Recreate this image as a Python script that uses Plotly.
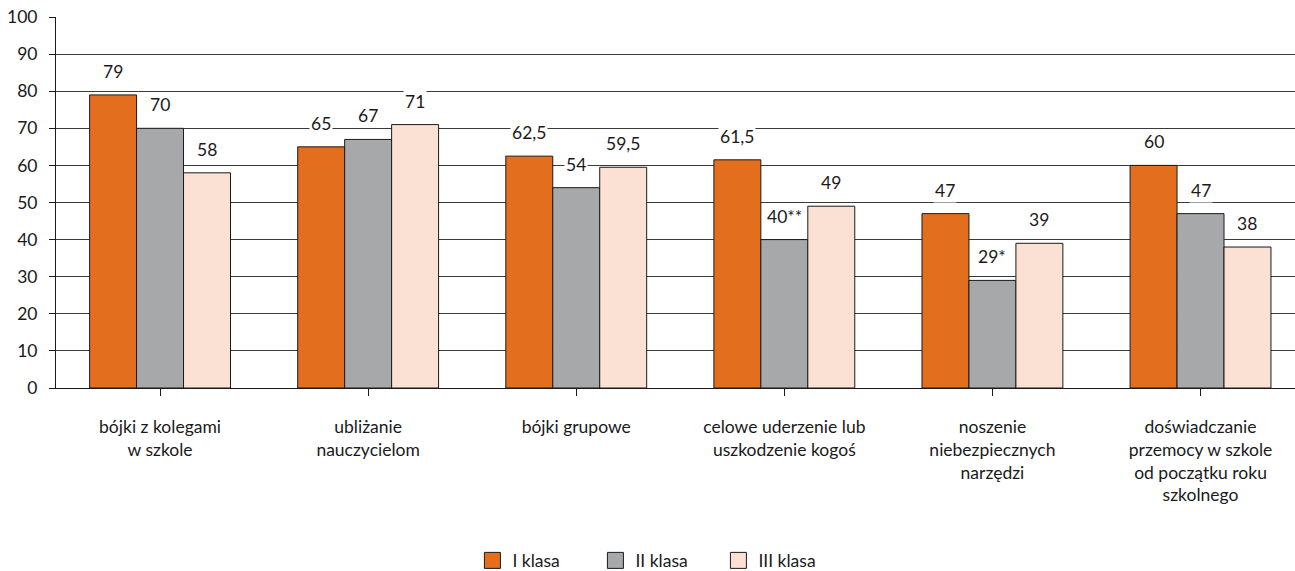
import plotly.graph_objects as go

categories = [
    "bójki z kolegami<br>w szkole",
    "ubliżanie<br>nauczycielom",
    "bójki grupowe",
    "celowe uderzenie lub<br>uszkodzenie kogoś",
    "noszenie<br>niebezpiecznych<br>narzędzi",
    "doświadczanie<br>przemocy w szkole<br>od początku roku<br>szkolnego",
]
series_names = ["I klasa", "II klasa", "III klasa"]
klasa_1 = [79, 65, 62.5, 61.5, 47, 60]
klasa_2 = [70, 67, 54, 40, 29, 47]
klasa_3 = [58, 71, 59.5, 49, 39, 38]
labels_1 = ["79", "65", "62,5", "61,5", "47", "60"]
labels_2 = ["70", "67", "54", "40**", "29*", "47"]
labels_3 = ["58", "71", "59,5", "49", "39", "38"]
y_ticks = [0, 10, 20, 30, 40, 50, 60, 70, 80, 90, 100]

colors = ["#E36F1E", "#A7A8AA", "#FBE1D3"]
FONT = "Lato, 'Open Sans', sans-serif"
FS = 17.5
BARGAP = 0.323

values = [klasa_1, klasa_2, klasa_3]
labels = [labels_1, labels_2, labels_3]
xpos = list(range(len(categories)))

fig = go.Figure()
for k, (name, vals) in enumerate(zip(series_names, values)):
    fig.add_trace(go.Bar(
        x=xpos, y=vals, name=name,
        marker=dict(color=colors[k], line=dict(color="#1a1a1a", width=1)),
        showlegend=False, hoverinfo="skip",
    ))
    # legend swatch
    fig.add_trace(go.Scatter(
        x=[None], y=[None], mode="markers", name=name,
        marker=dict(symbol="square", size=16, color=colors[k],
                    line=dict(color="#1a1a1a", width=1)),
    ))

# value labels above each bar, with a white box over the gridlines
w = (1 - BARGAP) / 3
for k in range(3):
    for i in xpos:
        fig.add_annotation(
            x=i + (k - 1) * w, y=values[k][i], text=labels[k][i],
            showarrow=False, yanchor="bottom", yshift=11,
            font=dict(family=FONT, size=FS, color="#1a1a1a"),
            bgcolor="white", borderpad=1,
        )

fig.update_layout(
    width=1295, height=571,
    margin=dict(l=56, r=0, t=17, b=183, autoexpand=False),
    plot_bgcolor="white", paper_bgcolor="white",
    barmode="group", bargap=BARGAP, bargroupgap=0,
    font=dict(family=FONT, size=FS, color="#1a1a1a"),
    legend=dict(orientation="h", x=0.485, xanchor="center", y=-0.465,
                yanchor="middle", font=dict(size=FS), entrywidth=78,
                itemsizing="trace", traceorder="normal"),
    xaxis=dict(
        range=[-0.5, 5.454], tickmode="array", tickvals=xpos,
        ticktext=categories, tickson="boundaries", ticks="outside",
        ticklen=7, tickcolor="#1a1a1a", showline=True, linecolor="#1a1a1a",
        linewidth=1, showgrid=False, zeroline=False, automargin=False,
        tickfont=dict(family=FONT, size=FS, color="#1a1a1a"),
        ticklabelstandoff=16,
    ),
    yaxis=dict(
        range=[0, 100], tickvals=y_ticks, ticks="outside", ticklen=6,
        tickcolor="#1a1a1a", showline=True, linecolor="#1a1a1a",
        linewidth=1, showgrid=True, gridcolor="#3a3a3a", gridwidth=1,
        zeroline=False, automargin=False,
        tickfont=dict(family=FONT, size=FS, color="#1a1a1a"),
        ticklabelstandoff=8,
    ),
)

fig.write_html("out.html")
